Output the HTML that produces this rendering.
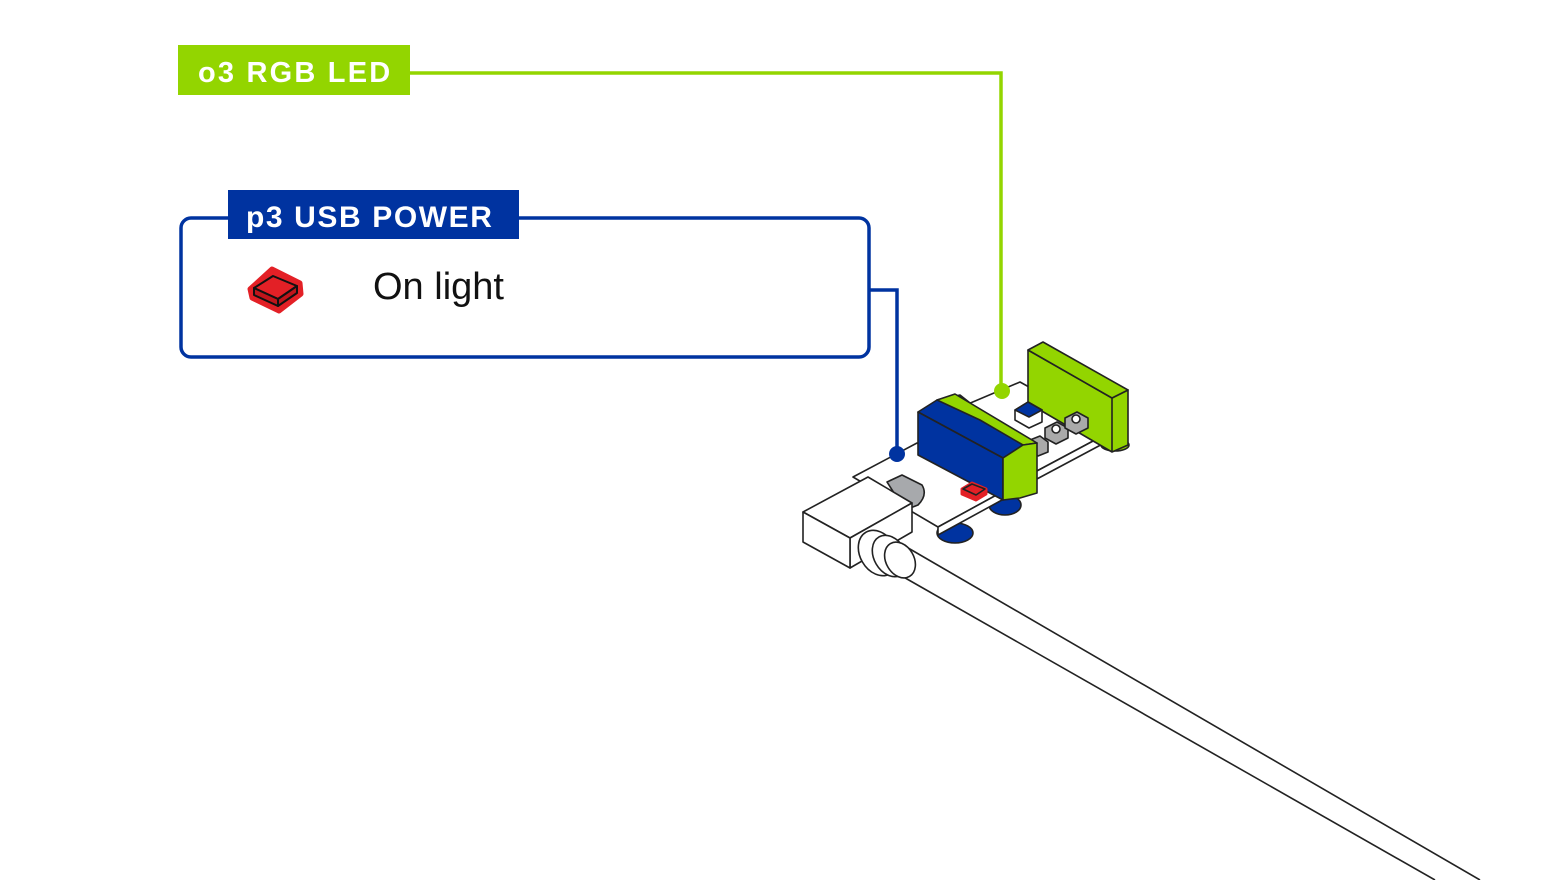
<!DOCTYPE html>
<html><head><meta charset="utf-8"><style>
html,body{margin:0;padding:0;background:#fff;}
svg{display:block;}
text{font-family:"Liberation Sans",sans-serif;}
</style></head><body>
<svg width="1560" height="880" viewBox="0 0 1560 880" xmlns="http://www.w3.org/2000/svg">
<!-- green label -->
<rect x="178" y="45" width="232" height="50" fill="#93d500"/>
<text x="198" y="82" fill="#fff" font-size="29" font-weight="bold" letter-spacing="2.2">o3 RGB LED</text>
<polyline points="410,73 1001,73 1001,390" fill="none" stroke="#93d500" stroke-width="3.5"/>
<!-- blue box -->
<rect x="181" y="218" width="688" height="139" rx="10" fill="none" stroke="#0033a0" stroke-width="3.5"/>
<rect x="228" y="190" width="291" height="49" fill="#0033a0"/>
<text x="246" y="227" fill="#fff" font-size="30" font-weight="bold" letter-spacing="1.6">p3 USB POWER</text>
<polyline points="869,290 897,290 897,453" fill="none" stroke="#0033a0" stroke-width="3.5"/>
<!-- LED icon -->
<g stroke-linejoin="round">
<polygon points="250,289 272,269 300,283 301,294 279,311 252,298" fill="#e32026" stroke="#e32026" stroke-width="5"/>
<polygon points="254,288 273,276 297,286 278,299" fill="#e32026" stroke="#111" stroke-width="2"/>
<polygon points="254,288 278,299 278,306 254,295" fill="#c0151b" stroke="#111" stroke-width="2"/>
<polygon points="278,299 297,286 297,293 278,306" fill="#c0151b" stroke="#111" stroke-width="2"/>
</g>
<text x="373" y="299" fill="#111" font-size="38">On light</text>

<!-- cable -->
<line x1="903" y1="545" x2="1480" y2="880" stroke="#222" stroke-width="1.6"/>
<line x1="900" y1="575" x2="1435" y2="880" stroke="#222" stroke-width="1.6"/>

<g stroke="#222" stroke-width="1.6" stroke-linejoin="round">
<ellipse cx="1115" cy="445" rx="14" ry="6" fill="#93d500"/>
<polygon points="935,418 1020,382 1110,432 1035,472" fill="#fff"/>
<polygon points="1035,472 1110,432 1110,440 1035,480" fill="#fff"/>
<polygon points="1028,350 1112,398 1128,390 1128,445 1112,452 1028,403" fill="#93d500"/>
<polygon points="1028,350 1043,342 1128,390 1112,398" fill="#93d500"/>
<line x1="1112" y1="398" x2="1112" y2="452"/>
<polygon points="1015,410 1028,402 1042,410 1042,422 1029,428 1015,420" fill="#fff"/>
<polygon points="1015,410 1028,402 1042,410 1029,417" fill="#0033a0"/>
<polygon points="1045,428 1057,422 1068,428 1068,438 1056,444 1045,438" fill="#aaa"/>
<circle cx="1056" cy="429" r="4" fill="#fff"/>
<polygon points="1065,418 1077,412 1088,418 1088,428 1076,434 1065,428" fill="#aaa"/>
<circle cx="1076" cy="419" r="4" fill="#fff"/>
<polygon points="1030,440 1040,436 1048,442 1048,452 1038,456 1030,450" fill="#aaa"/>
<ellipse cx="955" cy="533" rx="18" ry="10" fill="#0033a0"/>
<ellipse cx="1005" cy="505" rx="16" ry="10" fill="#0033a0"/>
<polygon points="853,477 917,443 1002,492 938,527" fill="#fff"/>
<polygon points="938,527 1002,492 1002,500 938,535" fill="#fff"/>
<polygon points="918,412 937,400 960,395 1023,445 1003,458" fill="#0033a0"/>
<polygon points="937,400 955,394 1037,443 1023,445 980,420" fill="#93d500"/>
<polygon points="918,412 1003,458 1003,500 918,455" fill="#0033a0"/>
<polygon points="1003,458 1023,445 1037,443 1037,493 1020,498 1003,500" fill="#93d500"/>
<polygon points="962,489 972,483 986,489 986,494 976,500 962,494" fill="#e32026" stroke="#e32026" stroke-width="3"/>
<polygon points="963,489 972,484 985,489 976,495" fill="#e32026"/>
<path d="M887,482 L902,475 L922,485 Q928,495 918,505 L905,510 Z" fill="#a7a9ac"/>
<polygon points="803,512 868,477 912,503 850,538" fill="#fff"/>
<polygon points="850,538 912,503 912,532 850,568" fill="#fff"/>
<polygon points="803,512 850,538 850,568 803,542" fill="#fff"/>
<ellipse cx="878" cy="553" rx="18" ry="24" fill="#fff" transform="rotate(-30 878 553)"/>
<ellipse cx="890" cy="556" rx="16" ry="22" fill="#fff" transform="rotate(-30 890 556)"/>
<ellipse cx="900" cy="560" rx="14" ry="19" fill="#fff" transform="rotate(-30 900 560)"/>
</g>
<circle cx="1002" cy="391" r="8" fill="#93d500"/>
<circle cx="897" cy="454" r="8" fill="#0033a0"/>
</svg>
</body></html>
